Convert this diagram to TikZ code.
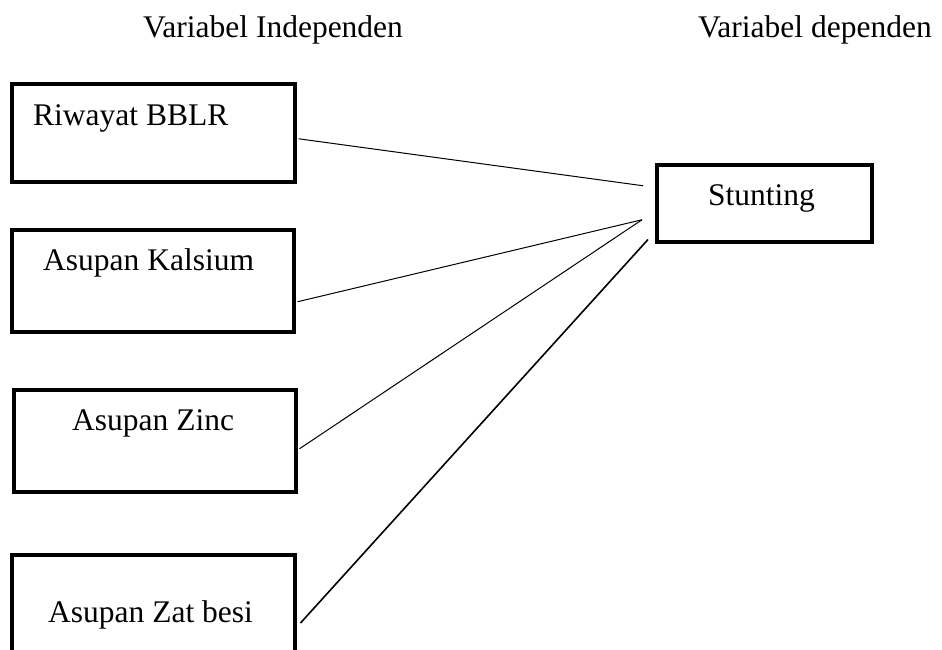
\documentclass[tikz,border=0pt]{standalone}
\usepackage{fontspec}
\setmainfont{Liberation Serif}
\begin{document}
\begin{tikzpicture}[x=1pt,y=-1pt,
  varbox/.style={draw,rectangle,line width=3.5pt,inner sep=0pt,anchor=north west},
  lbl/.style={font=\fontsize{31.5}{36}\selectfont,inner sep=0pt,anchor=base west},
  conn/.style={line width=1pt},
  connthick/.style={line width=1.6pt}]
\useasboundingbox (0,0) rectangle (942,649);
\clip (0,0) rectangle (942,649);
% headers
\node[lbl] (h1) at (143,37) {Variabel Independen};
\node[lbl] (h2) at (698,37) {Variabel dependen};
% boxes
\node[varbox,minimum width=283pt,minimum height=98pt] (b1) at (10,82) {};
\node[varbox,minimum width=282pt,minimum height=102pt] (b2) at (10,228) {};
\node[varbox,minimum width=282pt,minimum height=102pt] (b3) at (12,388) {};
\node[varbox,minimum width=283pt,minimum height=115pt] (b4) at (10,553) {};
\node[varbox,minimum width=215pt,minimum height=77pt] (st) at (655,163) {};
% labels
\node[lbl] (t1) at (33,125) {Riwayat BBLR};
\node[lbl] (t2) at (43,270) {Asupan Kalsium};
\node[lbl] (t3) at (72,430) {Asupan Zinc};
\node[lbl] (t4) at (48,622) {Asupan Zat besi};
\node[lbl] (t5) at (708,205) {Stunting};
% connectors
\draw[conn] ([xshift=2pt,yshift=-6pt]b1.east) -- ([xshift=-12pt,yshift=17.5pt]st.west);
\draw[conn] ([xshift=2pt,yshift=-21pt]b2.east) -- ([xshift=-13pt,yshift=-16.5pt]st.west);
\draw[conn] ([xshift=2pt,yshift=-8pt]b3.east) -- ([xshift=-13pt,yshift=-16.5pt]st.west);
\draw[connthick] ([xshift=4pt,yshift=-70pt]b4.north east) -- ([xshift=-7pt,yshift=4pt]st.south west);
\end{tikzpicture}
\end{document}
